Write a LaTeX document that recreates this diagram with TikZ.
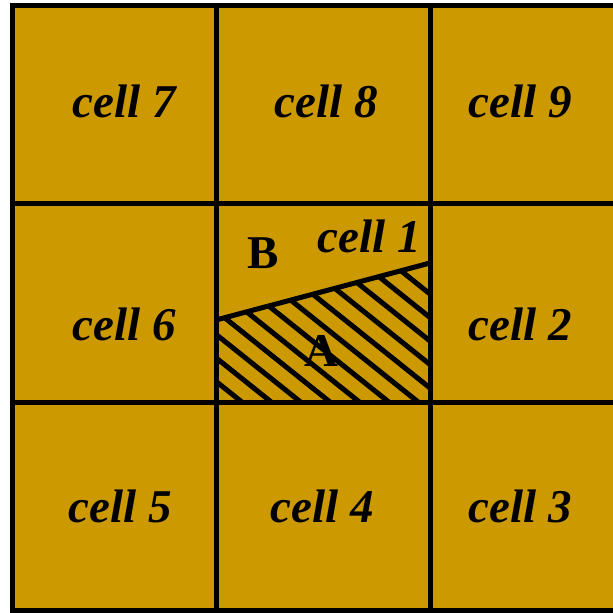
\documentclass[tikz,border=0pt]{standalone}
\usepackage{fontspec}
\setmainfont{Liberation Serif}
\definecolor{cellgold}{RGB}{204,153,0}
\tikzset{
  celllabel/.style={font=\fontsize{47}{52}\selectfont\bfseries\itshape},
  partlabel/.style={font=\fontsize{47}{52}\selectfont\bfseries},
  gridline/.style={line width=5pt},
}
\begin{document}
\begin{tikzpicture}[x=1pt,y=-1pt]
\useasboundingbox (0,0) rectangle (613,613);

% Background of the cells
\fill[cellgold] (12.5,5) rectangle (613,610);

% Hatched part A of cell 1
\begin{scope}
\clip (216,320) -- (430,263) -- (430,402) -- (216,402) -- cycle;
\foreach \k in {0,...,11}
  \draw[gridline] (200,{110+23.5*\k}) -- (450,{310+23.5*\k});
\end{scope}

% Grid
\draw[gridline] (613,5) -- (12.5,5) -- (12.5,610) -- (613,610);
\foreach \x in {216,430}
  \draw[gridline] (\x,5) -- (\x,610);
\foreach \y in {203,402}
  \draw[gridline] (12.5,\y) -- (613,\y);

% Interface between A and B
\draw[gridline] (216,320) -- (430,263);

% Cell labels
\node[celllabel] (c7) at (124,101) {cell 7};
\node[celllabel] (c8) at (326,101) {cell 8};
\node[celllabel] (c9) at (520,101) {cell 9};
\node[celllabel] (c6) at (124,324) {cell 6};
\node[celllabel] (c1) at (369,236) {cell 1};
\node[celllabel] (c2) at (520,324) {cell 2};
\node[celllabel] (c5) at (120,506) {cell 5};
\node[celllabel] (c4) at (322,506) {cell 4};
\node[celllabel] (c3) at (520,506) {cell 3};

% Parts of cell 1
\node[partlabel] (partB) at (263,253) {B};
\node[partlabel] (partA) at (321,351) {A};

\end{tikzpicture}
\end{document}
